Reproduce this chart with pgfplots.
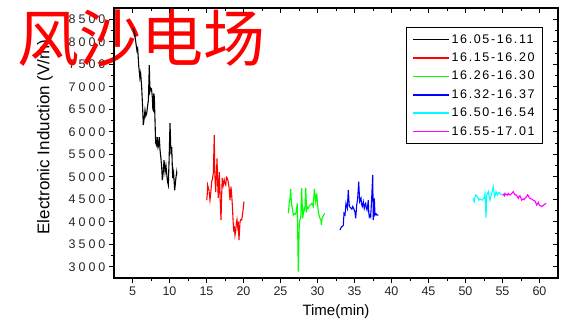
\documentclass[border=0pt]{standalone}
\usepackage{pgfplots}
\pgfplotsset{compat=1.18}
\usepackage{fontspec}
\setmainfont{Liberation Sans}
\newfontfamily\cjk{Noto Sans CJK SC}
\newfontfamily\ticky[LetterSpace=24]{Liberation Sans}
\newfontfamily\legf[LetterSpace=13]{Liberation Sans}
\definecolor{cCyan}{RGB}{0,255,255}
\definecolor{cMag}{RGB}{255,0,255}
\definecolor{cGreen}{RGB}{0,255,0}
\definecolor{cBlue}{RGB}{0,0,255}
\definecolor{cRed}{RGB}{255,0,0}
\pgfplotsset{base/.style={scale only axis, width=444pt, height=270pt,
  xmin=2.5, xmax=62.5, ymin=2750, ymax=8750,
  xtick={5,10,...,60}, ytick={3000,3500,...,8500},
  minor x tick num=1, minor y tick num=1,
  major tick length=5pt, minor tick length=3pt,
  every tick/.style={black, line width=0.9pt},
  axis line style={line width=1.2pt, black},
  scaled ticks=false,
  /pgf/number format/1000 sep={},
  /pgf/number format/assume math mode=true,
  clip=false}}
\begin{document}
\begin{tikzpicture}
\useasboundingbox (-114pt,-47pt) rectangle (461pt,278pt);
\begin{axis}[base,
  xtick pos=left, ytick pos=left, tick align=outside,
  x tick label style={font=\fontsize{12.5}{14}\selectfont, text=black!85},
  y tick label style={font=\ticky\fontsize{12.5}{14}\selectfont, text=black!85},
  xlabel={Time(min)}, ylabel={Electronic Induction (V/m)},
  x label style={at={(axis description cs:0.5,-0.126)}, anchor=center, font=\fontsize{15}{17}\selectfont},
  y label style={at={(axis description cs:-0.1554,0.522)}, anchor=center, font=\fontsize{17}{19}\selectfont},
]
\end{axis}
\node[text=cRed, font=\cjk\fontsize{62}{62}\selectfont, inner sep=0pt] at (28pt,240pt) {风沙电场};
\begin{axis}[base,
  xtick pos=right, ytick pos=right, tick align=inside,
  xticklabels={}, yticklabels={},
  legend style={at={(rel axis cs:1,1)}, anchor=north east, xshift=-15pt, yshift=-19pt,
    draw=black, line width=0.8pt, font=\legf\fontsize{12.5}{14}\selectfont,
    row sep=4.2pt, inner xsep=6pt, inner ysep=5pt},
  legend cell align=left,
  legend image code/.code={\draw[#1, line width=1.6pt] (0pt,0pt) -- (36pt,0pt);},
]
\addplot[color=black, line width=1.1pt] coordinates {(5.05,8300) (5.2,8250) (5.4,8050) (5.6,7800) (5.7,7850) (5.85,7450) (6.0,7200) (6.1,7300) (6.24,6990) (6.35,6600) (6.46,6150) (6.58,6300) (6.69,6480) (6.8,6350) (6.92,6410) (7.05,6590) (7.15,6700) (7.27,7480) (7.36,6900) (7.46,6970) (7.57,6950) (7.68,6770) (7.75,6500) (7.81,6480) (7.88,6850) (7.95,6770) (8.05,6200) (8.13,5750) (8.25,5700) (8.35,5880) (8.45,5650) (8.55,5700) (8.62,5880) (8.72,5590) (8.85,5400) (8.95,5200) (9.03,4925) (9.15,5100) (9.26,5370) (9.4,5100) (9.52,5250) (9.62,5080) (9.72,4900) (9.84,4815) (9.95,5400) (10.07,6190) (10.2,5500) (10.3,5660) (10.43,4970) (10.55,5100) (10.7,4700) (10.85,4950) (10.97,5100) (11.0,5050)};
\addlegendentry{16.05-16.11}
\addplot[color=cRed, line width=1.1pt] coordinates {(15.03,4480) (15.1,4600) (15.16,4815) (15.25,4750) (15.34,4700) (15.47,4480) (15.58,4650) (15.7,4890) (15.8,4950) (15.92,5080) (16.05,5925) (16.12,5100) (16.24,4660) (16.33,5000) (16.42,5410) (16.5,4900) (16.59,4530) (16.66,4800) (16.73,5110) (16.85,4500) (16.96,4035) (17.05,4600) (17.13,4970) (17.25,4800) (17.4,4930) (17.5,4850) (17.6,4815) (17.7,4990) (17.81,4970) (17.92,4900) (18.04,4780) (18.18,4480) (18.31,4780) (18.4,4600) (18.49,4370) (18.6,4000) (18.68,3780) (18.75,3900) (18.85,3700) (18.95,3800) (19.03,3960) (19.12,4050) (19.22,3890) (19.3,4000) (19.39,3590) (19.53,4000) (19.65,4050) (19.76,4040) (19.9,4200) (20.07,4450)};
\addlegendentry{16.15-16.20}
\addplot[color=cGreen, line width=1.1pt] coordinates {(26.05,4186) (26.12,4300) (26.19,4446) (26.28,4500) (26.38,4730) (26.45,4500) (26.51,4370) (26.6,4300) (26.73,4150) (26.9,4180) (27.05,4165) (27.15,4250) (27.27,4410) (27.4,2890) (27.54,3960) (27.63,4050) (27.73,4075) (27.86,4745) (28.0,4075) (28.1,4200) (28.18,4300) (28.3,4250) (28.4,4760) (28.54,4260) (28.65,4320) (28.76,4300) (28.9,4350) (28.99,4370) (29.1,4380) (29.22,4410) (29.33,4380) (29.43,4340) (29.57,4730) (29.66,4600) (29.76,4446) (29.9,4630) (30.0,4400) (30.11,4220) (30.2,4150) (30.34,4075) (30.45,4050) (30.52,3925) (30.6,4050) (30.71,4110) (30.85,4150) (30.97,4186)};
\addlegendentry{16.26-16.30}
\addplot[color=cBlue, line width=1.1pt] coordinates {(33.04,3816) (33.15,3860) (33.27,3890) (33.4,3900) (33.49,3925) (33.58,4186) (33.72,4150) (33.85,4410) (33.95,4350) (34.03,4300) (34.16,4705) (34.3,4340) (34.42,4320) (34.53,4300) (34.65,4280) (34.76,4340) (34.88,4300) (34.97,4260) (35.08,4200) (35.16,4075) (35.3,4370) (35.43,4520) (35.57,4890) (35.7,4446) (35.8,4480) (35.88,4520) (35.95,4400) (36.05,4340) (36.19,4446) (36.32,4300) (36.42,4380) (36.51,4410) (36.6,4300) (36.69,4260) (36.78,4350) (36.86,4480) (36.93,4200) (37.0,4110) (37.1,4150) (37.19,4110) (37.32,4520) (37.46,5040) (37.54,4040) (37.68,4520) (37.77,4150) (37.9,4180) (38.0,4150) (38.22,4150)};
\addlegendentry{16.32-16.37}
\addplot[color=cCyan, line width=1.1pt] coordinates {(51.05,4520) (51.12,4470) (51.19,4446) (51.3,4560) (51.38,4595) (51.5,4580) (51.59,4555) (51.7,4520) (51.82,4480) (51.95,4510) (52.05,4505) (52.15,4490) (52.27,4480) (52.4,4510) (52.5,4520) (52.64,4630) (52.7,4400) (52.77,4090) (52.86,4595) (52.95,4620) (53.08,4670) (53.2,4560) (53.31,4480) (53.42,4560) (53.54,4630) (53.65,4700) (53.76,4780) (53.85,4650) (53.94,4555) (54.03,4600) (54.12,4670) (54.2,4640) (54.3,4595) (54.4,4630) (54.53,4650) (54.65,4630) (54.76,4610) (54.9,4600) (55.03,4595)};
\addlegendentry{16.50-16.54}
\addplot[color=cMag, line width=1.1pt] coordinates {(55.03,4595) (55.15,4610) (55.25,4580) (55.34,4630) (55.45,4600) (55.57,4610) (55.68,4590) (55.78,4630) (55.9,4610) (56.01,4595) (56.12,4610) (56.24,4630) (56.35,4650) (56.45,4670) (56.57,4630) (56.69,4595) (56.8,4600) (56.92,4580) (57.03,4550) (57.14,4520) (57.25,4560) (57.36,4580) (57.48,4530) (57.59,4480) (57.7,4500) (57.81,4505) (57.92,4490) (58.04,4520) (58.15,4540) (58.26,4555) (58.37,4600) (58.48,4580) (58.6,4540) (58.72,4520) (58.83,4510) (58.95,4505) (59.05,4490) (59.16,4480) (59.28,4470) (59.39,4460) (59.5,4420) (59.62,4370) (59.73,4400) (59.84,4430) (59.95,4380) (60.07,4360) (60.2,4350) (60.3,4340) (60.4,4350) (60.51,4360) (60.62,4380) (60.74,4390) (60.9,4410)};
\addlegendentry{16.55-17.01}
\end{axis}
\end{tikzpicture}
\end{document}
